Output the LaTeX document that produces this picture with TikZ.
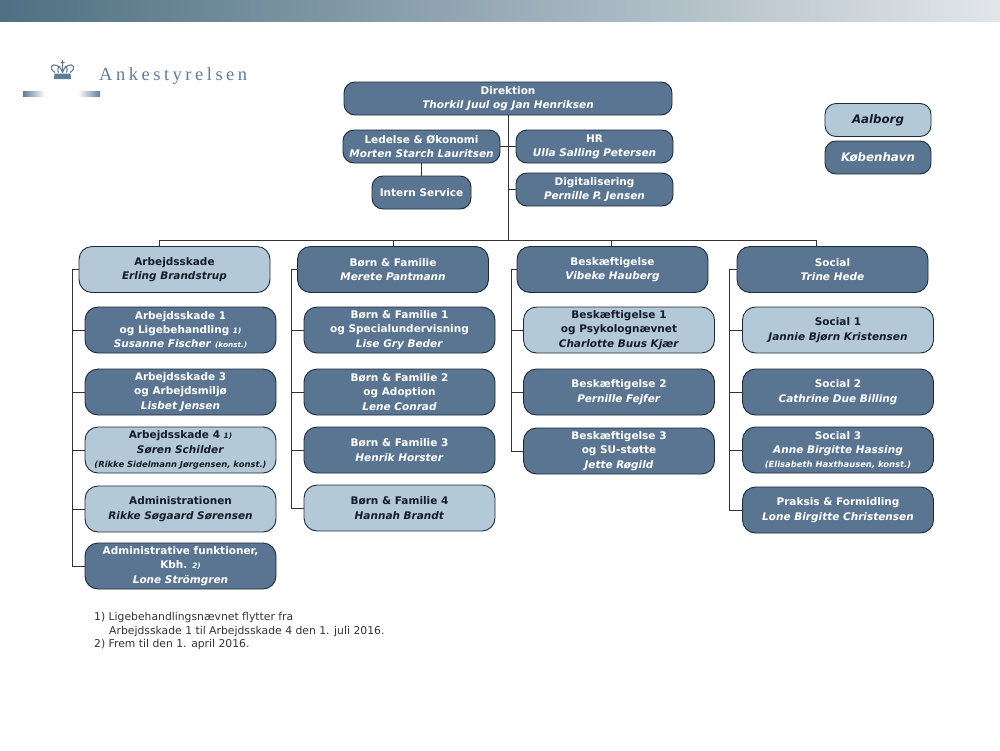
\documentclass[tikz,border=0pt]{standalone}
\usepackage{fontspec}
\setmainfont{DejaVu Sans}
\newfontfamily\logofont[LetterSpace=19]{Liberation Serif}
\usetikzlibrary{calc}
\definecolor{darkblue}{HTML}{5A7591}
\definecolor{lightblue}{HTML}{B4C9D8}
\definecolor{edgeblue}{HTML}{1E2A38}
\definecolor{logoblue}{HTML}{5F7C98}
\definecolor{bandleft}{HTML}{4E7082}
\definecolor{bandright}{HTML}{E2E6EA}
\definecolor{darktext}{HTML}{141C26}
\tikzset{
    box/.style={draw=edgeblue,line width=0.9pt,rounded corners=11pt,align=center,inner sep=0pt,
        font=\fontsize{10.5}{14.3}\selectfont\bfseries},
    darkbox/.style={box,fill=darkblue,text=white},
    lightbox/.style={box,fill=lightblue,text=darktext},
    big/.style={minimum width=191pt,minimum height=46pt,rounded corners=13pt},
    small/.style={minimum width=157pt,minimum height=33pt},
    legend/.style={minimum width=106pt,minimum height=33pt,font=\fontsize{11.8}{14}\selectfont\bfseries\itshape},
    line/.style={draw=black!80,line width=1pt},
}
\newcommand{\nm}[1]{\textit{#1}}
\newcommand{\fn}[1]{{\fontsize{7.3}{8}\selectfont\textit{#1}}}
\newcommand{\subnm}[1]{{\fontsize{8.4}{10}\selectfont\textit{#1}}}
\begin{document}
\begin{tikzpicture}[x=1pt,y=-1pt]
    \useasboundingbox (0,0) rectangle (1000,750);
    % top band
    \shade[left color=bandleft,right color=bandright] (0,0) rectangle (1000,21);
    % logo
    \shade[left color=logoblue,right color=white] (23,91) rectangle (45,96);
    \shade[left color=white,right color=logoblue] (78,91) rectangle (100,96);
    \node[anchor=base west,inner sep=0pt,text=logoblue,font=\fontsize{18.5}{18.5}\logofont] (logotext) at (99,80) {Ankestyrelsen};
    \fill[logoblue] (54.5,73.5) -- (70.5,73.5) -- (71,79) -- (54,79) -- cycle;
    \draw[logoblue,line width=1.1pt,line join=round] (55,72.5) .. controls (48,68) and (52,63) .. (57,65.5) .. controls (59,66.5) and (61,68) .. (62.5,72.5) .. controls (64,68) and (66,66.5) .. (68,65.5) .. controls (73,63) and (77,68) .. (70,72.5);
    \draw[logoblue,line width=1.1pt] (62.5,60) -- (62.5,72.5) (60.5,62.5) -- (64.5,62.5) (58.5,72.5) .. controls (57,69) and (58,67) .. (60,66) (66.5,72.5) .. controls (68,69) and (67,67) .. (65,66);
    % direction
    \node[darkbox,minimum width=328pt,minimum height=33pt] (direktion) at (508,98.5) {Direktion\\\nm{Thorkil Juul og Jan Henriksen}};
    \node[darkbox,small] (ledelse) at (421.5,146.5) {Ledelse \& Økonomi\\\nm{Morten Starch Lauritsen}};
    \node[darkbox,minimum width=99pt,minimum height=33pt] (intern) at (421.5,192.5) {Intern Service};
    \node[darkbox,small] (hr) at (594.5,146.5) {HR\\\nm{Ulla Salling Petersen}};
    \node[darkbox,small] (digital) at (594.5,189.5) {Digitalisering\\\nm{Pernille P. Jensen}};
    % legend
    \node[lightbox,legend] (aalborg) at (878,120) {Aalborg};
    \node[darkbox,legend] (kbh) at (878,157.5) {København};
    % departments
    \node[lightbox,big] (arbejd) at (174.5,269.5) {Arbejdsskade\\\nm{Erling Brandstrup}};
    \node[darkbox,big] (boern) at (393,269.5) {Børn \& Familie\\\nm{Merete Pantmann}};
    \node[darkbox,big] (beskaef) at (612.5,269.5) {Beskæftigelse\\\nm{Vibeke Hauberg}};
    \node[darkbox,big] (social) at (832.5,269.5) {Social\\\nm{Trine Hede}};
    % column 1
    \node[darkbox,big] (arbejdA) at (180.5,330) {Arbejdsskade 1\\og Ligebehandling \fn{1)}\\\nm{Susanne Fischer} \fn{(konst.)}};
    \node[darkbox,big] (arbejdB) at (180.5,392) {Arbejdsskade 3\\og Arbejdsmiljø\\\nm{Lisbet Jensen}};
    \node[lightbox,big] (arbejdC) at (180.5,450) {Arbejdsskade 4 \fn{1)}\\\nm{Søren Schilder}\\\subnm{(Rikke Sidelmann Jørgensen, konst.)}};
    \node[lightbox,big] (admin) at (180.5,509) {Administrationen\\\nm{Rikke Søgaard Sørensen}};
    \node[darkbox,big] (adminf) at (180.5,566) {Administrative funktioner,\\Kbh. \fn{2)}\\\nm{Lone Strömgren}};
    % column 2
    \node[darkbox,big] (boernA) at (399.5,330) {Børn \& Familie 1\\og Specialundervisning\\\nm{Lise Gry Beder}};
    \node[darkbox,big] (boernB) at (399.5,392) {Børn \& Familie 2\\og Adoption\\\nm{Lene Conrad}};
    \node[darkbox,big] (boernC) at (399.5,450) {Børn \& Familie 3\\\nm{Henrik Horster}};
    \node[lightbox,big] (boernD) at (399.5,508) {Børn \& Familie 4\\\nm{Hannah Brandt}};
    % column 3
    \node[lightbox,big] (beskaefA) at (619,330) {Beskæftigelse 1\\og Psykolognævnet\\\nm{Charlotte Buus Kjær}};
    \node[darkbox,big] (beskaefB) at (619,392) {Beskæftigelse 2\\\nm{Pernille Fejfer}};
    \node[darkbox,big] (beskaefC) at (619,451) {Beskæftigelse 3\\og SU-støtte\\\nm{Jette Røgild}};
    % column 4
    \node[lightbox,big] (socialA) at (838,330) {Social 1\\\nm{Jannie Bjørn Kristensen}};
    \node[darkbox,big] (socialB) at (838,392) {Social 2\\\nm{Cathrine Due Billing}};
    \node[darkbox,big] (socialC) at (838,450) {Social 3\\\nm{Anne Birgitte Hassing}\\\subnm{(Elisabeth Haxthausen, konst.)}};
    \node[darkbox,big] (socialD) at (838,510) {Praksis \& Formidling\\\nm{Lone Birgitte Christensen}};
    % connectors
    \coordinate (bus) at (508,240);
    \draw[line] (direktion.south-|bus) -- (bus);
    \draw[line] (ledelse) -- (intern);
    \draw[line] (ledelse.east) -- (hr.west);
    \draw[line] (digital.west) -- (digital.west-|bus);
    \foreach \dep/\off in {arbejd/-15.5,boern/0,beskaef/-1.5,social/-16.5}
        \draw[line] (bus) -| ($(\dep.north)+(\off,0)$);
    \foreach \sub in {arbejdA,arbejdB,arbejdC,admin,adminf}
        \draw[line] (arbejd.west) -- ++(-6,0) |- (\sub.west);
    \foreach \sub in {boernA,boernB,boernC,boernD}
        \draw[line] (boern.west) -- ++(-6,0) |- (\sub.west);
    \foreach \sub in {beskaefA,beskaefB,beskaefC}
        \draw[line] (beskaef.west) -- ++(-5,0) |- (\sub.west);
    \foreach \sub in {socialA,socialB,socialC,socialD}
        \draw[line] (social.west) -- ++(-7,0) |- (\sub.west);
    % footnotes
    \node[anchor=north west,inner sep=0pt,align=left,text=black!80,font=\fontsize{10.8}{13.6}\selectfont] (noter) at (94,612) {1) Ligebehandlingsnævnet flytter fra\\\hspace*{15pt}Arbejdsskade 1 til Arbejdsskade 4 den 1. juli 2016.\\2) Frem til den 1. april 2016.};
\end{tikzpicture}
\end{document}
